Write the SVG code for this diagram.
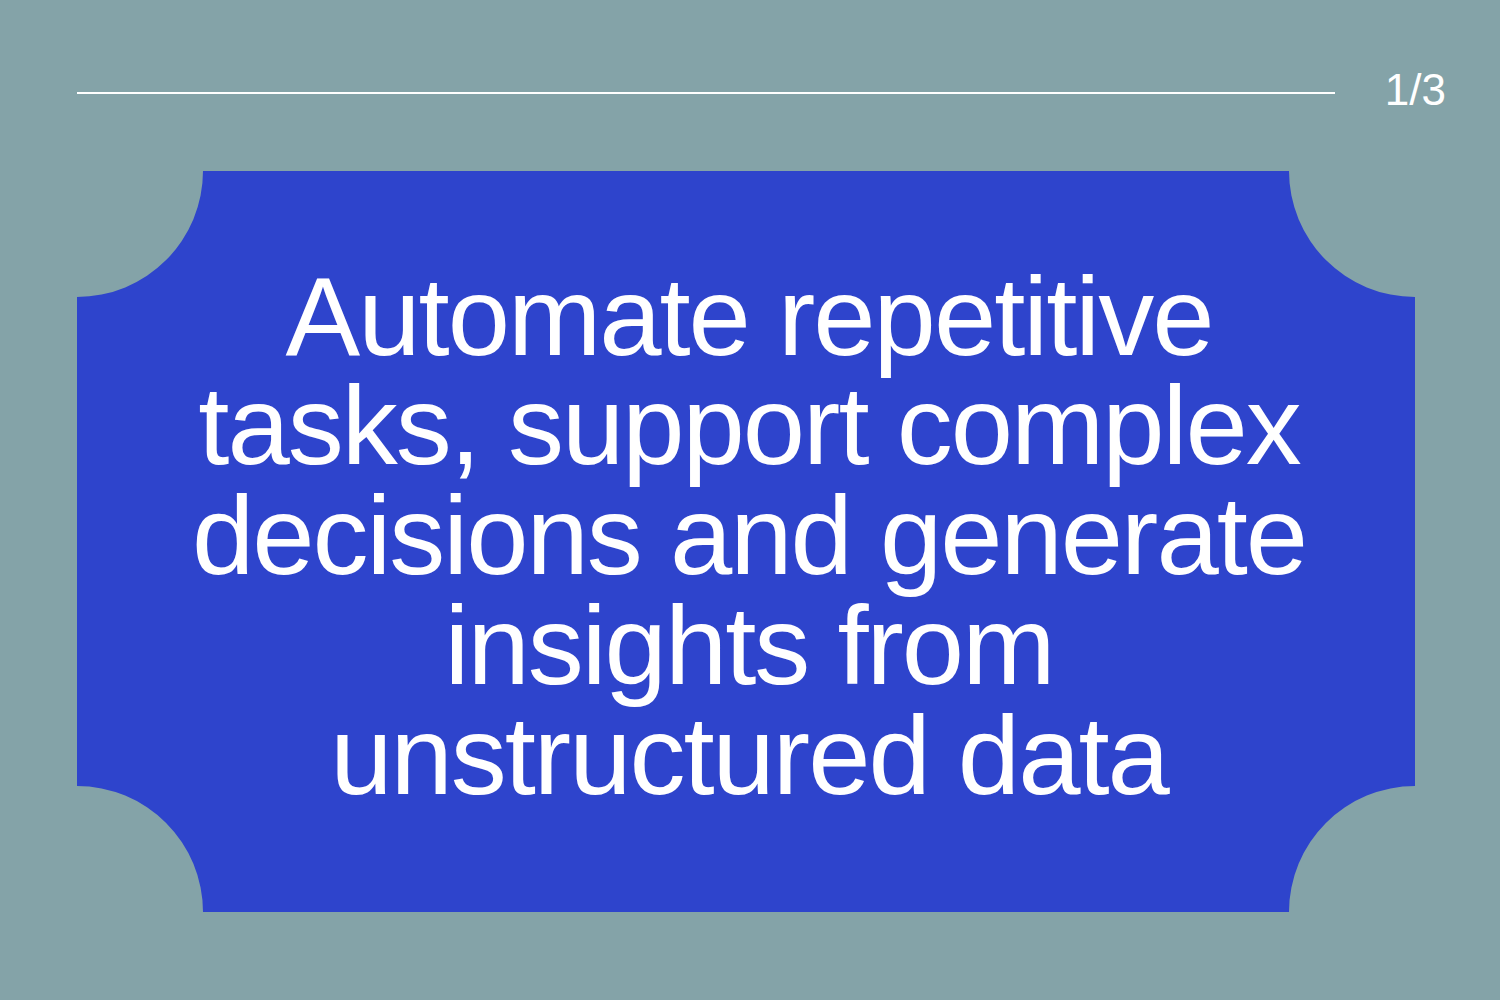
<svg xmlns="http://www.w3.org/2000/svg" width="1500" height="1000" viewBox="0 0 1500 1000">
<style>.t{font-family:"Liberation Sans",Arial,sans-serif;fill:#fff;text-anchor:middle;font-size:112px;letter-spacing:-2px}</style>
<rect width="1500" height="1000" fill="#84A3A8"/>
<line x1="77" y1="93" x2="1335" y2="93" stroke="#fff" stroke-width="2"/>
<text x="1446" y="105" font-family="Liberation Sans, Arial, sans-serif" font-size="44" fill="#fff" text-anchor="end">1/3</text>
<g id="card">
<path d="M203,171 H1289 A126,126 0 0 0 1415,297 V786 A126,126 0 0 0 1289,912 H203 A126,126 0 0 0 77,786 V297 A126,126 0 0 0 203,171 Z" fill="#2E44CC"/>
<text class="t" x="749" y="355">Automate repetitive</text>
<text class="t" x="749" y="464">tasks, support complex</text>
<text class="t" x="749" y="574">decisions and generate</text>
<text class="t" x="749" y="684">insights from</text>
<text class="t" x="749" y="794">unstructured data</text>
</g>
</svg>
